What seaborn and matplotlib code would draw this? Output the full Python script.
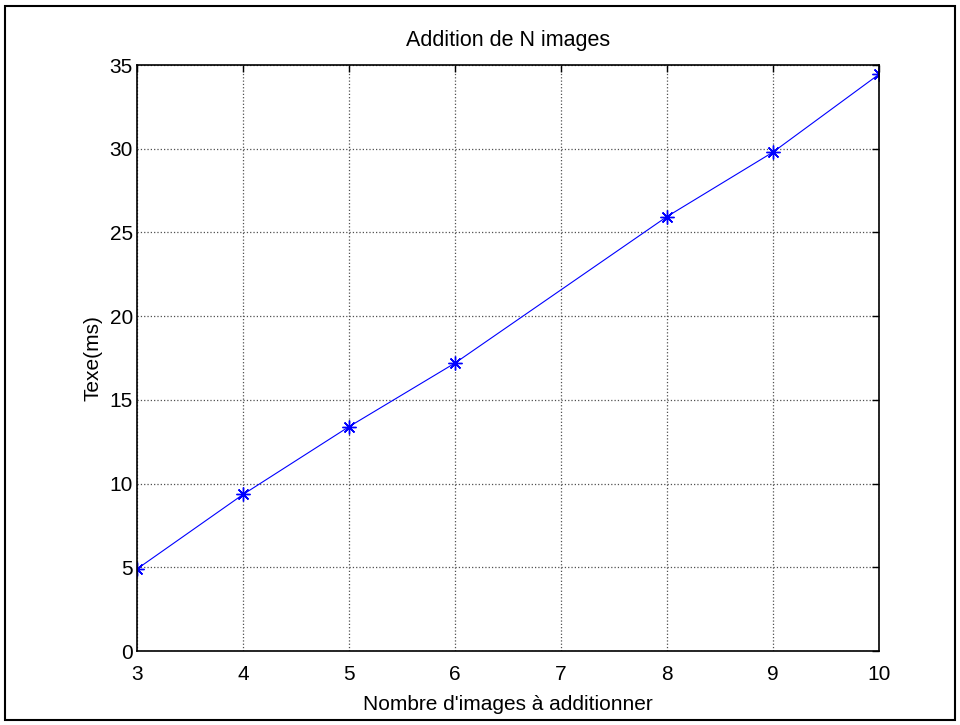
import matplotlib
matplotlib.use('Agg')
import matplotlib.pyplot as plt
import seaborn as sns
from matplotlib.patches import Rectangle

# Données
n_images = [3, 4, 5, 6, 8, 9, 10]
texe_ms = [4.9, 9.35, 13.4, 17.2, 25.95, 29.8, 34.45]
x_ticks = [3, 4, 5, 6, 7, 8, 9, 10]
y_ticks = [0, 5, 10, 15, 20, 25, 30, 35]

sns.set_style("white")
plt.rcParams['font.family'] = ['Liberation Sans', 'DejaVu Sans']
plt.rcParams['text.color'] = 'black'
plt.rcParams['axes.labelcolor'] = 'black'

fig = plt.figure(figsize=(9.6, 7.25), dpi=100)
ax = fig.add_axes([0.1427, 0.102, 0.773, 0.8083])

# marqueur '*' façon matlab : astérisque à 8 branches
sns.lineplot(x=n_images, y=texe_ms, ax=ax, color='blue', linewidth=0.8,
             marker=(8, 2, 0), markersize=10, markeredgecolor='blue',
             markeredgewidth=1.0)

ax.set_xlim(3, 10)
ax.set_ylim(0, 35)
ax.set_xticks(x_ticks)
ax.set_yticks(y_ticks)
ax.grid(True, linestyle=':', color='#505050', linewidth=0.9)
ax.tick_params(direction='in', top=True, right=True, length=5, width=1,
               labelsize=15, colors='black')
ax.tick_params(axis='x', pad=10)
ax.tick_params(axis='y', pad=3)
for s in ax.spines.values():
    s.set_color('black')
    s.set_linewidth(1.2)

ax.set_title('Addition de N images', fontsize=15.5, pad=14, color='black')
ax.set_xlabel("Nombre d'images à additionner", fontsize=15, labelpad=8)
ax.set_ylabel('Texe(ms)', fontsize=15, labelpad=5)

# cadre autour de la figure
fig.patches.append(Rectangle((5 / 960, 5 / 725), 950 / 960, 714 / 725,
                             transform=fig.transFigure, fill=False,
                             edgecolor='black', linewidth=1.5))

fig.savefig('out.png', dpi=100)
